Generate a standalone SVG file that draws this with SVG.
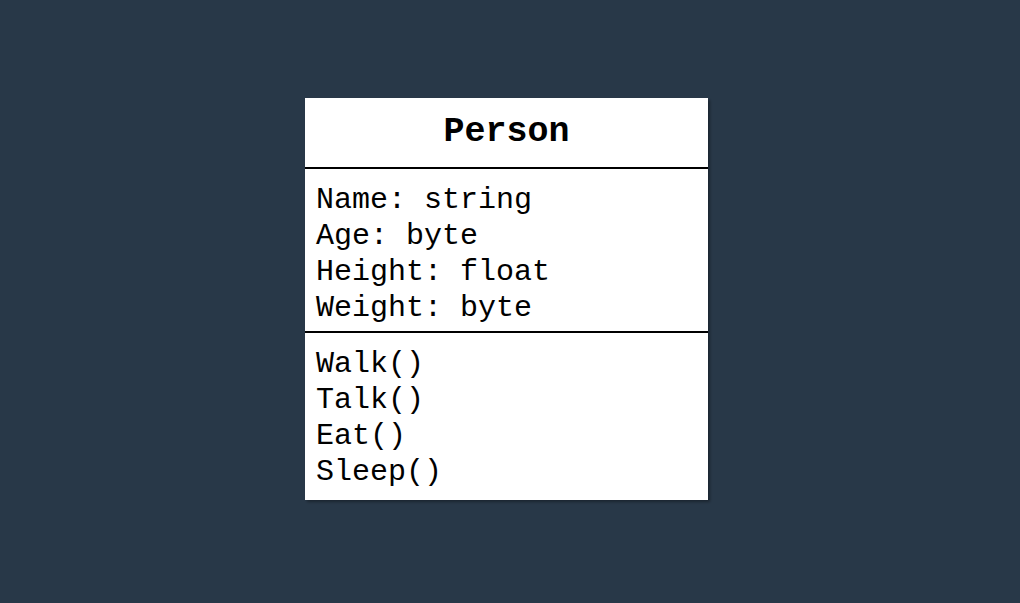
<svg xmlns="http://www.w3.org/2000/svg" width="1020" height="603" viewBox="0 0 1020 603">
<style>
.t{font-family:"Liberation Mono","Courier New",monospace;font-size:30px;fill:#000}
.h{font-family:"Liberation Mono","Courier New",monospace;font-size:35px;font-weight:bold;fill:#000}
.sep{stroke:#000;stroke-width:2}
</style>
<defs>
<filter id="sh" x="-5%" y="-5%" width="115%" height="115%">
<feDropShadow dx="2" dy="2" stdDeviation="1.5" flood-color="#000" flood-opacity="0.35"/>
</filter>
</defs>
<rect width="1020" height="603" fill="#283848"/>
<g id="person">
<rect x="305" y="98" width="403" height="402" fill="#fff" filter="url(#sh)"/>
<text class="h" x="506.5" y="141" text-anchor="middle">Person</text>
<line class="sep" x1="305" y1="168" x2="708" y2="168"/>
<text class="t" x="316" y="208">Name: string</text>
<text class="t" x="316" y="244">Age: byte</text>
<text class="t" x="316" y="280">Height: float</text>
<text class="t" x="316" y="316">Weight: byte</text>
<line class="sep" x1="305" y1="332" x2="708" y2="332"/>
<text class="t" x="316" y="372">Walk()</text>
<text class="t" x="316" y="408">Talk()</text>
<text class="t" x="316" y="444">Eat()</text>
<text class="t" x="316" y="480">Sleep()</text>
</g>
<g id="connectors"/>
</svg>
